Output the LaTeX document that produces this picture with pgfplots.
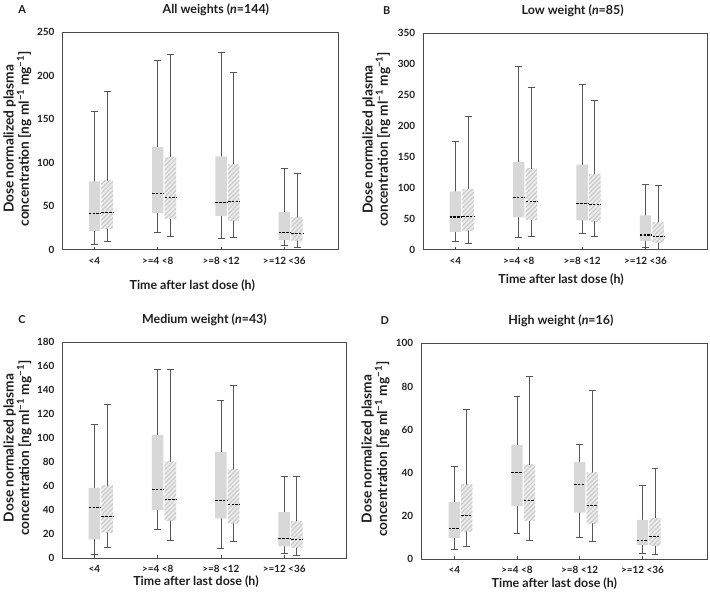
\documentclass[border=0pt]{standalone}
\usepackage{fontspec}
\setmainfont{Lato}
\usepackage{pgfplots}
\pgfplotsset{compat=1.18}
\usetikzlibrary{patterns}

\definecolor{boxgray}{HTML}{D8D8D8}
\definecolor{hatchbg}{HTML}{EDEDED}
\definecolor{hatchln}{HTML}{CBCBCB}
\definecolor{whisk}{HTML}{555555}
\definecolor{frame}{HTML}{4A4A4A}
\definecolor{txt}{HTML}{1E1E1E}

\pgfdeclarepatternformonly{hatch}{\pgfqpoint{-1pt}{-1pt}}{\pgfqpoint{5.5pt}{5.5pt}}{\pgfqpoint{4.5pt}{4.5pt}}{%
  \pgfsetlinewidth{1.2pt}
  \pgfpathmoveto{\pgfqpoint{0pt}{0pt}}
  \pgfpathlineto{\pgfqpoint{4.6pt}{4.6pt}}
  \pgfusepath{stroke}}

\pgfplotsset{
  wline/.style={draw=whisk, line width=0.8pt},
  mline/.style={draw=black, line width=1.2pt, dash pattern=on 2.6pt off 1.2pt},
  gfill/.style={draw=none, fill=boxgray},
  hfill/.style={draw=none, fill=hatchbg, postaction={pattern=hatch, pattern color=hatchln}},
  panel/.style={
    scale only axis, clip=false,
    xmin=0.5, ymin=0,
    xtick={1,2,3,4},
    xticklabels={{<4},{>=4 <8},{>=8 <12},{>=12 <36}},
    tick pos=left, tick align=inside,
    ytick style={draw=none},
    xtick style={draw=frame, line width=0.6pt},
    major tick length=3pt,
    axis line style={draw=frame, line width=0.9pt},
    /pgf/number format/assume math mode=true,
    ticklabel style={font=\bfseries\fontsize{10}{12}\selectfont, text=txt},
    yticklabel style={xshift=-5pt},
    xticklabel style={yshift=-4pt},
    label style={font=\bfseries\fontsize{12.5}{14}\selectfont, text=txt},
    ylabel style={font=\bfseries\fontsize{13.8}{14.5}\selectfont},
    ylabel={Dose normalized plasma\\concentration [ng ml\textsuperscript{−1} mg\textsuperscript{−1}]},
    xlabel={Time after last dose (h)},
  },
}

% one box: fill style, position, lower whisker, lower quartile, median, upper quartile, upper whisker
\newcommand{\bx}[7]{%
  \pgfmathsetmacro{\boxL}{#2-0.09}%
  \pgfmathsetmacro{\boxR}{#2+0.09}%
  \pgfmathsetmacro{\capL}{#2-0.055}%
  \pgfmathsetmacro{\capR}{#2+0.055}%
  \edef\doplots{%
    \noexpand\addplot[wline] coordinates {(#2,#3)(#2,#7)};
    \noexpand\addplot[wline] coordinates {(\capL,#3)(\capR,#3)};
    \noexpand\addplot[wline] coordinates {(\capL,#7)(\capR,#7)};
    \noexpand\addplot[#1] coordinates {(\boxL,#4)(\boxR,#4)(\boxR,#6)(\boxL,#6)(\boxL,#4)};
    \noexpand\addplot[mline] coordinates {(\boxL,#5)(\boxR,#5)};
  }\doplots}
\newcommand{\gb}[6]{\bx{gfill}{#1}{#2}{#3}{#4}{#5}{#6}}
\newcommand{\hb}[6]{\bx{hfill}{#1}{#2}{#3}{#4}{#5}{#6}}
\newcommand{\ptitle}[4]{% x, letter x, letter, title
  \node[font=\bfseries\fontsize{12.5}{14}\selectfont, text=txt, yshift=23pt] at (axis description cs:#1,1) {#4};
  \node[font=\bfseries\fontsize{11}{13}\selectfont, text=txt, yshift=23pt] at (axis description cs:#2,1) {#3};}

\begin{document}
\begin{tikzpicture}

% A
\begin{axis}[panel, at={(59pt,351pt)}, anchor=south west,
  width=277pt, height=219pt, xmax=4.85, ymax=250, ytick={0,50,...,250},
  ylabel style={at={(axis description cs:-0.165,0.51)}, anchor=center, align=center},
  xlabel style={at={(axis description cs:0.47,0)}, anchor=center, yshift=-36pt}]
\gb{1}{6.5}{21.7}{41.9}{78.8}{159}
\hb{1.2}{9.5}{24.4}{43}{79.5}{182}
\gb{2}{20.5}{42.3}{65}{118}{218}
\hb{2.2}{15.5}{36.3}{60.5}{106.5}{224.5}
\gb{3}{13.5}{39}{54.3}{107.5}{227}
\hb{3.2}{14}{33.5}{55.5}{97.5}{204}
\gb{4}{4.7}{11.3}{19.5}{43.3}{93.8}
\hb{4.2}{2.3}{10.6}{18.5}{37}{88}
\ptitle{0.556}{-0.148}{A}{All weights (\textit{n}=144)}
\end{axis}

% B
\begin{axis}[panel, at={(422pt,351pt)}, anchor=south west,
  width=285pt, height=218pt, xmax=4.97, ymax=350, ytick={0,50,...,350},
  ylabel style={at={(axis description cs:-0.167,0.51)}, anchor=center, align=center},
  xlabel style={at={(axis description cs:0.485,0)}, anchor=center, yshift=-30pt}]
\gb{1}{13.4}{29}{53}{94.5}{176}
\hb{1.2}{10.7}{31.6}{54}{98}{215}
\gb{2}{20}{52.5}{84}{142}{296}
\hb{2.2}{21.5}{49}{78}{131}{262}
\gb{3}{26.8}{47.6}{74.4}{137.5}{268}
\hb{3.2}{21.5}{46.5}{73.5}{122}{241}
\gb{4}{4.8}{14}{24}{55.7}{105}
\hb{4.2}{1}{11.8}{21.6}{44.5}{104}
\ptitle{0.526}{-0.13}{B}{Low weight (\textit{n}=85)}
\end{axis}

% C
\begin{axis}[panel, at={(59pt,41pt)}, anchor=south west,
  width=285pt, height=217pt, xmax=4.98, ymax=180, ytick={0,20,...,180},
  ylabel style={at={(axis description cs:-0.16,0.51)}, anchor=center, align=center},
  xlabel style={at={(axis description cs:0.47,0)}, anchor=center, yshift=-24pt}]
\gb{1}{3.2}{15.5}{42.3}{58.6}{111.6}
\hb{1.2}{8.5}{21.6}{34.6}{60.3}{128}
\gb{2}{24}{40}{57.5}{102.8}{157.5}
\hb{2.2}{14.7}{31.2}{49}{80.4}{157.5}
\gb{3}{8.3}{33.2}{47.8}{88.7}{131.9}
\hb{3.2}{13.8}{29}{44.9}{73.7}{144}
\gb{4}{3.9}{9.7}{16.5}{38.4}{68.5}
\hb{4.2}{2}{8.8}{15.8}{30.4}{68.3}
\ptitle{0.50}{-0.144}{C}{Medium weight (\textit{n}=43)}
\end{axis}

% D
\begin{axis}[panel, at={(420pt,40pt)}, anchor=south west,
  width=287pt, height=217pt, xmin=0.48, xmax=5.03, ymax=100, ytick={0,20,...,100},
  ylabel style={at={(axis description cs:-0.162,0.51)}, anchor=center, align=center},
  xlabel style={at={(axis description cs:0.465,0)}, anchor=center, yshift=-25pt}]
\gb{1}{4.5}{9.7}{14}{26.5}{43}
\hb{1.2}{5.7}{13}{20.3}{34.5}{69.5}
\gb{2}{12}{24.5}{40.3}{52.8}{75.5}
\hb{2.2}{8.5}{17.7}{27}{43.7}{84.5}
\gb{3}{10.2}{21.5}{34.6}{45}{53}
\hb{3.2}{8}{16.5}{24.8}{40}{78}
\gb{4}{2.6}{6.5}{8.5}{18.2}{34}
\hb{4.2}{2.1}{6.2}{10.4}{19}{42}
\ptitle{0.488}{-0.129}{D}{High weight (\textit{n}=16)}
\end{axis}

% page frame, 1pt per pixel of the reference
\path (0,0) rectangle (710pt,600pt);
\end{tikzpicture}
\end{document}
